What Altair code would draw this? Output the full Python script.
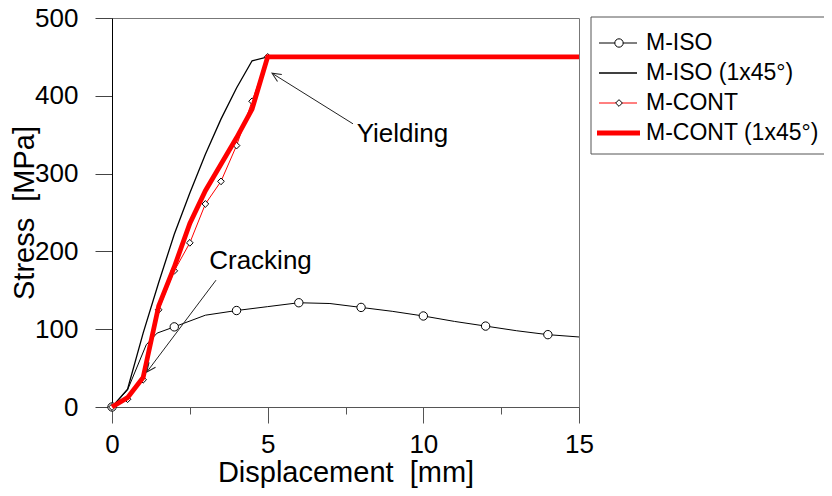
import altair as alt
import pandas as pd
import numpy as np

FONT = "Liberation Sans"
series_names = ["M-ISO", "M-ISO (1x45°)", "M-CONT", "M-CONT (1x45°)"]

iso_x = [0, 0.5, 1.1, 1.45, 2, 3, 4, 5, 6, 7, 8, 9, 10, 11, 12, 13, 14, 15]
iso_y = [0, 22, 80, 95, 103, 118, 124, 129, 134, 133, 128, 123, 117, 110, 104, 98, 93, 90]
iso_marker_x = [0, 2, 4, 6, 8, 10, 12, 14]

iso45_x = [0, 0.5, 1.0, 1.5, 2.0, 2.5, 3.0, 3.5, 4.0, 4.5, 5.0, 15]
iso45_y = [0, 23, 95, 160, 222, 275, 325, 370, 410, 445, 450, 450]

cont_x = [0, 0.5, 1.0, 1.5, 2.0, 2.5, 3.0, 3.5, 4.0, 4.5, 5.0, 15]
cont_y = [0, 10, 35, 125, 175, 211, 261, 290, 336, 393, 450, 450]
cont_marker_x = [0, 0.5, 1.0, 1.5, 2.0, 2.5, 3.0, 3.5, 4.0, 4.5, 5.0]

cont45_x = [0, 0.5, 1.0, 1.5, 2.0, 2.5, 3.0, 3.5, 4.0, 4.5, 5.0, 15]
cont45_y = [0, 12, 38, 130, 180, 236, 278, 312, 346, 383, 450, 450]

x_ticks = [0, 2.5, 5, 7.5, 10, 12.5, 15]
y_ticks = [0, 50, 100, 150, 200, 250, 300, 350, 400, 450, 500]

note_text = ["Cracking", "Yielding"]
note_x = [4.77, 9.33]
note_y = [178, 340]
arrow_x = [3.34, 7.74]
arrow_y = [163, 364]
arrow_x2 = [1.12, 5.14]
arrow_y2 = [45, 429]

W, H = 467, 389

def mk(xs, ys, name, markers):
    return pd.DataFrame({"x": xs, "y": ys, "series": name,
                         "marker": [x in markers for x in xs]})

df = pd.concat([
    mk(iso_x, iso_y, series_names[0], iso_marker_x),
    mk(iso45_x, iso45_y, series_names[1], []),
    mk(cont_x, cont_y, series_names[2], cont_marker_x),
    mk(cont45_x, cont45_y, series_names[3], []),
], ignore_index=True)

arrows = pd.DataFrame({"x": arrow_x, "y": arrow_y, "x2": arrow_x2, "y2": arrow_y2})
dxp = (arrows["x2"] - arrows["x"]) * W / 15
dyp = -(arrows["y2"] - arrows["y"]) * H / 500
arrows["angle"] = (np.degrees(np.arctan2(dxp, -dyp)) + 360) % 360

notes = pd.DataFrame({"text": note_text, "x": note_x, "y": note_y})
legend_df = pd.DataFrame({"series": series_names, "i": list(range(len(series_names)))})

xenc = alt.X("x:Q", scale=alt.Scale(domain=[0, 15], nice=False, zero=False),
             axis=alt.Axis(values=x_ticks, grid=False,
                           labelExpr="datum.value % 5 === 0 ? datum.label : ''",
                           tickSize={"condition": {"test": "datum.value % 5 === 0", "value": 16}, "value": 7},
                           labelFont=FONT, labelFontSize=26, labelColor="black", labelPadding=8,
                           labelFlush=False, labelOverlap=False,
                           domainColor="#555", tickColor="#555",
                           title="Displacement\u00a0 [mm]", titleFont=FONT, titleFontSize=29,
                           titleFontWeight="normal", titleColor="black",
                           titleX=W / 2, titleY=74, titleBaseline="alphabetic"))
yenc = alt.Y("y:Q", scale=alt.Scale(domain=[0, 500], nice=False),
             axis=alt.Axis(values=y_ticks, grid=False,
                           labelExpr="datum.value % 100 === 0 ? datum.label : ''",
                           tickSize={"condition": {"test": "datum.value % 100 === 0", "value": 17}, "value": 9},
                           labelFont=FONT, labelFontSize=26, labelColor="black", labelPadding=17,
                           labelFlush=False, labelOverlap=False,
                           domainColor="black", tickColor="#444",
                           title="Stress\u00a0 [MPa]", titleFont=FONT, titleFontSize=29,
                           titleFontWeight="normal", titleColor="black",
                           titleX=-79, titleY=H / 2, titleAngle=270, titleBaseline="alphabetic"))

base = alt.Chart(df)

iso_line = base.transform_filter(alt.datum.series == series_names[0]).mark_line(
    color="black", strokeWidth=1).encode(x=xenc, y=yenc)
iso45_line = base.transform_filter(alt.datum.series == series_names[1]).mark_line(
    color="black", strokeWidth=1.3).encode(x="x:Q", y="y:Q")
cont_line = base.transform_filter(alt.datum.series == series_names[2]).mark_line(
    color="#ff0000", strokeWidth=1).encode(x="x:Q", y="y:Q")
iso_pts = base.transform_filter((alt.datum.series == series_names[0]) & alt.datum.marker).mark_point(
    shape="circle", filled=True, fill="white", stroke="black", strokeWidth=1, size=70, opacity=1
).encode(x="x:Q", y="y:Q")
cont_pts = base.transform_filter((alt.datum.series == series_names[2]) & alt.datum.marker).mark_point(
    shape="diamond", filled=True, fill="white", stroke="black", strokeWidth=1, size=45, opacity=1
).encode(x="x:Q", y="y:Q")
cont45_line = base.transform_filter(alt.datum.series == series_names[3]).mark_line(
    color="#ff0000", strokeWidth=4.8).encode(x="x:Q", y="y:Q")

arrow_lines = alt.Chart(arrows).mark_rule(color="#222", strokeWidth=1).encode(
    x="x:Q", y="y:Q", x2="x2:Q", y2="y2:Q")
arrow_heads = alt.Chart(arrows).mark_point(
    shape="M -0.45 1 L 0 0 L 0.45 1", filled=False, stroke="#222", strokeWidth=1, size=324, opacity=1
).encode(x="x2:Q", y="y2:Q", angle=alt.Angle("angle:Q", scale=None))
note_marks = alt.Chart(notes).mark_text(
    font=FONT, fontSize=26, color="black", align="center", baseline="alphabetic"
).encode(x="x:Q", y="y:Q", text="text:N")

# legend drawn outside the plot area
leg_box = alt.Chart(pd.DataFrame({"k": [0]})).mark_rect(
    fill="white", stroke="#555", strokeWidth=1).encode(
    x=alt.value(479), x2=alt.value(714), y=alt.value(-1), y2=alt.value(136))
leg = alt.Chart(legend_df).transform_calculate(
    ly="25 + datum.i * 30",
    sw="datum.i === 3 ? 4.8 : (datum.i === 1 ? 1.3 : 1)",
    lx="datum.i === 3 ? 485 : 487",
    lx2="datum.i === 3 ? 528 : 525",
)
leg_lines = leg.mark_rule().encode(
    x=alt.X("lx:Q", scale=None), x2="lx2:Q",
    y=alt.Y("ly:Q", scale=None),
    color=alt.Color("series:N", scale=alt.Scale(domain=series_names,
                    range=["black", "black", "#ff0000", "#ff0000"]), legend=None),
    strokeWidth=alt.StrokeWidth("sw:Q", scale=None))
leg_circ = leg.transform_filter(alt.datum.series == series_names[0]).mark_point(
    shape="circle", filled=True, fill="white", stroke="black", strokeWidth=1, size=70, opacity=1
).encode(x=alt.value(507), y=alt.Y("ly:Q", scale=None))
leg_diam = leg.transform_filter(alt.datum.series == series_names[2]).mark_point(
    shape="diamond", filled=True, fill="white", stroke="black", strokeWidth=1, size=45, opacity=1
).encode(x=alt.value(507), y=alt.Y("ly:Q", scale=None))
leg_text = leg.mark_text(font=FONT, fontSize=23, color="black", align="left", baseline="middle").encode(
    x=alt.value(534), y=alt.Y("ly:Q", scale=None), text="series:N")

chart = alt.layer(
    iso_line, iso45_line, cont_line, iso_pts, cont_pts, cont45_line,
    arrow_lines, arrow_heads, note_marks,
    leg_box, leg_lines, leg_circ, leg_diam, leg_text
).properties(
    width=W, height=H,
    autosize=alt.AutoSizeParams(type="none"),
    padding={"left": 104, "top": 10, "right": 245, "bottom": 86},
    background="white"
).configure_view(stroke="#777", strokeWidth=1)

chart.save("out.html", embed_options={"renderer": "svg", "actions": False})
